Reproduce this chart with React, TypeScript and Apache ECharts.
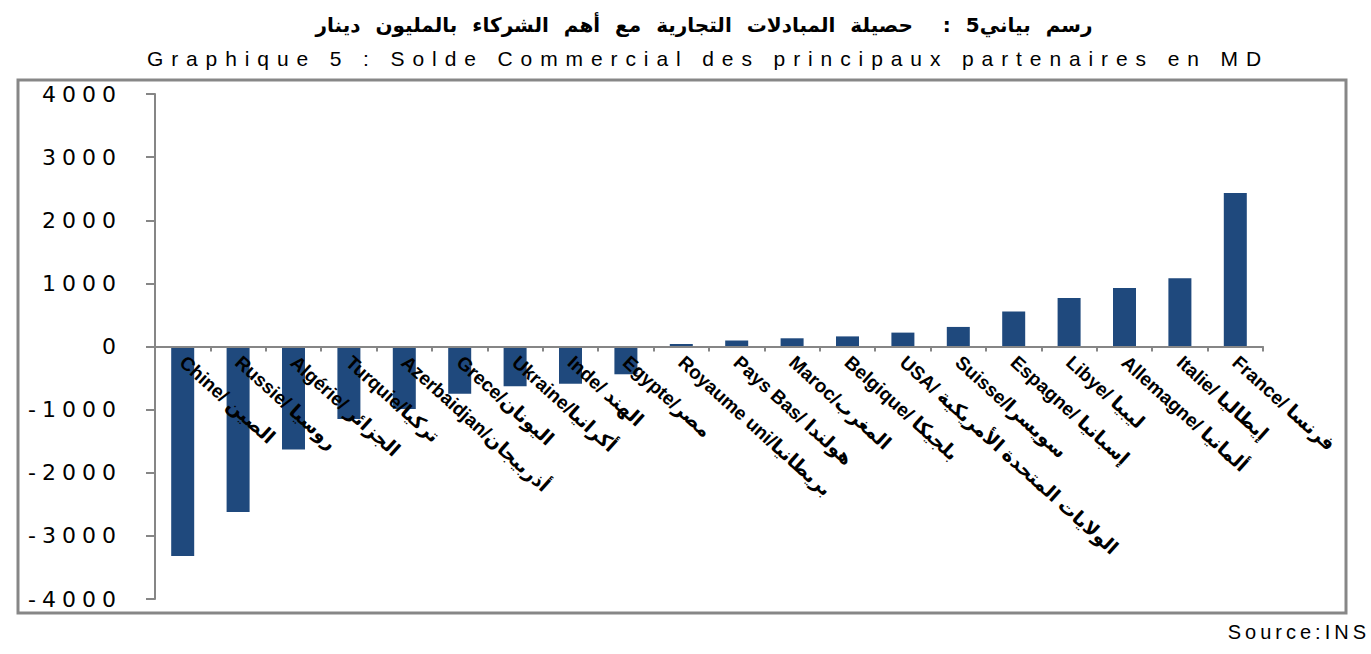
import React, { useEffect, useRef } from 'react';
import * as echarts from 'echarts';

const categories = [
  'Chine/ الصين',
  'Russie/ روسيا',
  'Algérie/ الجزائر',
  'Turquie/تركيا',
  'Azerbaidjan/أذربيجان',
  'Grece/اليونان',
  'Ukraine/أكرانيا',
  'Inde/ الهند',
  'Egypte/مصر',
  'Royaume uni/بريطانيا',
  'Pays Bas/ هولندا',
  'Maroc/المغرب',
  'Belgique/ بلجيكا',
  'USA/ الولايات المتحدة الأمريكية',
  'Suisse/سويسرا',
  'Espagne/ إسبانيا',
  'Libye/ ليبيا',
  'Allemagne/ ألمانيا',
  'Italie/ إيطاليا',
  'France/ فرنسا',
];

const balance = [
  -3320, -2620, -1630, -1150, -990, -750, -630, -590, -440,
  40, 95, 130, 160, 220, 310, 555, 770, 925, 1080, 2430,
];

const yMin = -4000;
const yMax = 4000;
const yInterval = 1000;

const titleAr = 'رسم بياني5 :  حصيلة المبادلات التجارية مع أهم الشركاء بالمليون دينار';
const titleFr = 'Graphique 5 : Solde Commercial des principaux partenaires en MD';
const sourceText = 'Source:INS';

export default function App() {
  const ref = useRef<HTMLDivElement>(null);

  useEffect(() => {
    document.body.style.margin = '0';
    const el = ref.current as HTMLDivElement;
    const chart = echarts.init(el, null, { renderer: 'svg' });
    const axisGray = '#868686';

    chart.setOption({
      animation: false,
      backgroundColor: '#ffffff',
      grid: {
        left: 155,
        right: 108,
        top: 94,
        bottom: 55,
        containLabel: false,
        outerBoundsMode: 'none',
      },
      xAxis: {
        type: 'category',
        data: categories,
        offset: 0,
        z: 10,
        axisLine: { onZero: false, lineStyle: { color: axisGray, width: 2 } },
        axisTick: { show: true, length: 5, lineStyle: { color: axisGray, width: 2 } },
        axisLabel: {
          interval: 0,
          rotate: -42,
          margin: 13,
          color: '#000000',
          fontWeight: 'bold',
          fontSize: 19,
          fontFamily: 'Liberation Sans, DejaVu Sans, sans-serif',
        },
        splitLine: { show: false },
      },
      yAxis: {
        type: 'value',
        min: yMin,
        max: yMax,
        interval: yInterval,
        axisLine: { show: true, lineStyle: { color: axisGray, width: 2 } },
        axisTick: { show: true, length: 9, lineStyle: { color: axisGray, width: 2 } },
        axisLabel: {
          margin: 33,
          color: '#000000',
          fontSize: 22,
          fontFamily: 'DejaVu Sans, sans-serif',
          formatter: (v: number) => String(v),
        },
        splitLine: { show: false },
      },
      series: [
        {
          type: 'bar',
          data: balance,
          barWidth: 23,
          itemStyle: { color: '#1F497D' },
        },
      ],
      graphic: [
        {
          type: 'rect',
          z: -10,
          shape: { x: 18, y: 80, width: 1328, height: 533 },
          style: { fill: 'none', stroke: '#878787', lineWidth: 3 },
        },
        {
          type: 'text',
          x: 704,
          y: 25,
          style: {
            text: titleAr,
            fill: '#000000',
            font: 'bold 20px "DejaVu Sans", sans-serif',
            textAlign: 'center',
            textVerticalAlign: 'middle',
          },
        },
        {
          type: 'text',
          x: 708,
          y: 58,
          style: {
            text: titleFr,
            fill: '#000000',
            font: '21px "Liberation Sans", sans-serif',
            textAlign: 'center',
            textVerticalAlign: 'middle',
          },
        },
        {
          type: 'text',
          x: 1370,
          y: 632,
          style: {
            text: sourceText,
            fill: '#000000',
            font: '20px "Liberation Sans", sans-serif',
            textAlign: 'right',
            textVerticalAlign: 'middle',
          },
        },
      ],
    });

    // place the category axis on the zero line (labels included), using the value scale
    const zeroY = chart.convertToPixel({ yAxisIndex: 0 }, 0) as number;
    const bottomY = chart.convertToPixel({ yAxisIndex: 0 }, yMin) as number;
    chart.setOption({ xAxis: { offset: -(bottomY - zeroY) } });

    const applySpacing = () => {
      el.querySelectorAll('text').forEach((t) => {
        const s = (t.textContent || '').trim();
        if (s === titleFr) t.setAttribute('letter-spacing', '7.9');
        else if (s === titleAr) t.setAttribute('word-spacing', '8');
        else if (s === sourceText) t.setAttribute('letter-spacing', '4');
        else if (/^-?\d+$/.test(s)) t.setAttribute('letter-spacing', '6');
      });
    };
    chart.on('finished', applySpacing);
    applySpacing();
    const timers = [setTimeout(applySpacing, 0), setTimeout(applySpacing, 60), setTimeout(applySpacing, 300)];

    return () => {
      timers.forEach((id) => clearTimeout(id));
      chart.dispose();
    };
  }, []);

  return <div ref={ref} style={{ width: 1371, height: 654 }} />;
}
